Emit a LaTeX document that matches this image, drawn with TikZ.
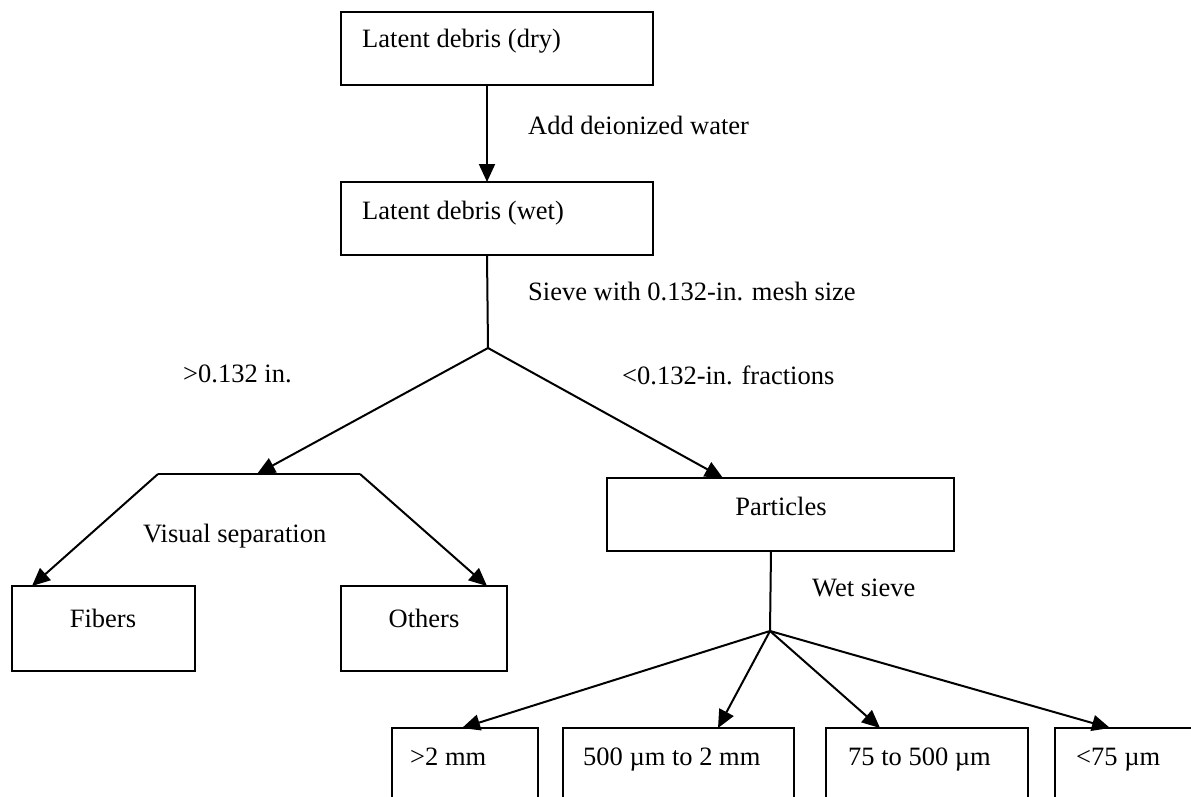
\documentclass[tikz,border=0pt]{standalone}
\usepackage{fontspec}
\setmainfont{Liberation Serif}
\usetikzlibrary{arrows.meta}
\begin{document}
\begin{tikzpicture}[x=1pt,y=-1pt,
  box/.style={draw, line width=2.4pt, inner sep=0pt, outer sep=0pt, anchor=north west},
  txt/.style={font=\fontsize{26.5}{30}\selectfont, inner sep=0pt, anchor=base west},
  ctxt/.style={txt, anchor=base},
  conn/.style={line width=2pt},
  arr/.style={conn, -{Triangle[length=18pt,width=16pt]}}]
\clip (0,0) rectangle (1191,797);
% boxes
\node[box, minimum width=312pt, minimum height=73pt] (dry) at (341,12) {};
\node[box, minimum width=312pt, minimum height=73pt] (wet) at (341,182) {};
\node[box, minimum width=183pt, minimum height=85pt] (fib) at (12,586) {};
\node[box, minimum width=166pt, minimum height=85pt] (oth) at (341,586) {};
\node[box, minimum width=347pt, minimum height=73pt] (par) at (607,478) {};
\node[box, minimum width=146pt, minimum height=100pt] (b1) at (392,728) {};
\node[box, minimum width=231pt, minimum height=100pt] (b2) at (563,728) {};
\node[box, minimum width=202pt, minimum height=100pt] (b3) at (826,728) {};
\node[box, minimum width=200pt, minimum height=100pt] (b4) at (1055,728) {};
% texts
\node[txt] (tdry) at (362,48) {Latent debris (dry)};
\node[txt] (twet) at (362,219) {Latent debris (wet)};
\node[txt] (tadd) at (528,135) {Add deionized water};
\node[txt] (tsieve) at (528,300) {Sieve with 0.132-in. mesh size};
\node[txt] (tgt) at (183,382) {>0.132 in.};
\node[txt] (tlt) at (622,384) {<0.132-in. fractions};
\node[txt] (tvis) at (143,542) {Visual separation};
\node[ctxt] (tfib) at (103,627) {Fibers};
\node[ctxt] (toth) at (424,627) {Others};
\node[ctxt] (tpar) at (781,515) {Particles};
\node[txt] (twets) at (812,596) {Wet sieve};
\node[txt] (tb1) at (410,765) {>2 mm};
\node[txt] (tb2) at (583,765) {500 µm to 2 mm};
\node[txt] (tb3) at (848,765) {75 to 500 µm};
\node[txt] (tb4) at (1076,765) {<75 µm};
% junctions
\coordinate (j1) at (488,348);
\coordinate (hl) at (158,474);
\coordinate (hr) at (360,474);
\coordinate (hm) at (257,474);
\coordinate (j2) at (770,631);
% connectors
\draw[arr] ([xshift=146pt]dry.south west) -- ([xshift=146pt]wet.north west);
\draw[conn] ([xshift=146pt]wet.south west) -- (j1);
\draw[arr] (j1) -- (hm);
\draw[conn] (hl) -- (hr);
\draw[arr] (hl) -- ([xshift=20pt]fib.north west);
\draw[arr] (hr) -- ([xshift=146pt]oth.north west);
\draw[arr] (j1) -- ([xshift=116pt]par.north west);
\draw[conn] ([xshift=164pt]par.south west) -- (j2);
\draw[arr] (j2) -- ([xshift=70pt]b1.north west);
\draw[arr] (j2) -- ([xshift=155pt]b2.north west);
\draw[arr] (j2) -- ([xshift=54pt]b3.north west);
\draw[arr] (j2) -- ([xshift=55pt]b4.north west);
\end{tikzpicture}
\end{document}
